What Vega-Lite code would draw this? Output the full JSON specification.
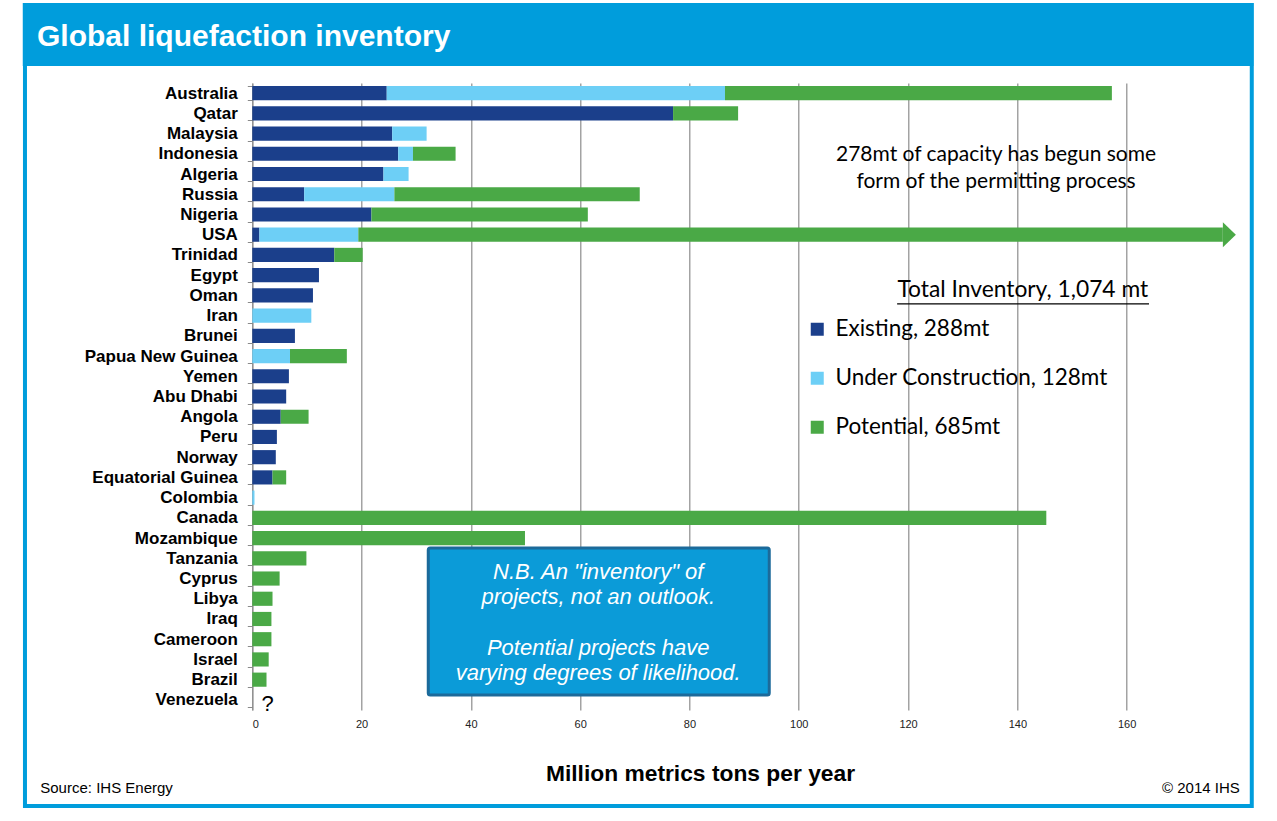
{
  "$schema": "https://vega.github.io/schema/vega-lite/v6.json",
  "width": 988,
  "height": 627,
  "autosize": "none",
  "padding": {"left": 252.3, "top": 83, "right": 36.7, "bottom": 111},
  "background": "white",
  "config": {"view": {"stroke": null}},
  "layer": [
    {
      "layer": [
        {
          "data": {
            "values": [
              {"country": "Australia", "status": "Existing", "value": 24.6},
              {"country": "Australia", "status": "Under Construction", "value": 61.9},
              {"country": "Australia", "status": "Potential", "value": 70.8},
              {"country": "Qatar", "status": "Existing", "value": 77.0},
              {"country": "Qatar", "status": "Potential", "value": 11.9},
              {"country": "Malaysia", "status": "Existing", "value": 25.6},
              {"country": "Malaysia", "status": "Under Construction", "value": 6.3},
              {"country": "Indonesia", "status": "Existing", "value": 26.7},
              {"country": "Indonesia", "status": "Under Construction", "value": 2.7},
              {"country": "Indonesia", "status": "Potential", "value": 7.8},
              {"country": "Algeria", "status": "Existing", "value": 24.0},
              {"country": "Algeria", "status": "Under Construction", "value": 4.6},
              {"country": "Russia", "status": "Existing", "value": 9.5},
              {"country": "Russia", "status": "Under Construction", "value": 16.5},
              {"country": "Russia", "status": "Potential", "value": 44.9},
              {"country": "Nigeria", "status": "Existing", "value": 21.8},
              {"country": "Nigeria", "status": "Potential", "value": 39.6},
              {"country": "USA", "status": "Existing", "value": 1.3},
              {"country": "USA", "status": "Under Construction", "value": 18.1},
              {"country": "USA", "status": "Potential", "value": 158.2},
              {"country": "Trinidad", "status": "Existing", "value": 15.0},
              {"country": "Trinidad", "status": "Potential", "value": 5.2},
              {"country": "Egypt", "status": "Existing", "value": 12.2},
              {"country": "Oman", "status": "Existing", "value": 11.1},
              {"country": "Iran", "status": "Under Construction", "value": 10.8},
              {"country": "Brunei", "status": "Existing", "value": 7.8},
              {"country": "Papua New Guinea", "status": "Under Construction", "value": 6.9},
              {"country": "Papua New Guinea", "status": "Potential", "value": 10.4},
              {"country": "Yemen", "status": "Existing", "value": 6.7},
              {"country": "Abu Dhabi", "status": "Existing", "value": 6.2},
              {"country": "Angola", "status": "Existing", "value": 5.2},
              {"country": "Angola", "status": "Potential", "value": 5.1},
              {"country": "Peru", "status": "Existing", "value": 4.5},
              {"country": "Norway", "status": "Existing", "value": 4.3},
              {"country": "Equatorial Guinea", "status": "Existing", "value": 3.7},
              {"country": "Equatorial Guinea", "status": "Potential", "value": 2.5},
              {"country": "Colombia", "status": "Under Construction", "value": 0.4},
              {"country": "Canada", "status": "Potential", "value": 145.3},
              {"country": "Mozambique", "status": "Potential", "value": 49.9},
              {"country": "Tanzania", "status": "Potential", "value": 9.9},
              {"country": "Cyprus", "status": "Potential", "value": 5.0},
              {"country": "Libya", "status": "Potential", "value": 3.7},
              {"country": "Iraq", "status": "Potential", "value": 3.5},
              {"country": "Cameroon", "status": "Potential", "value": 3.5},
              {"country": "Israel", "status": "Potential", "value": 3.0},
              {"country": "Brazil", "status": "Potential", "value": 2.6}
            ]
          },
          "transform": [
            {"calculate": "indexof(['Existing', 'Under Construction', 'Potential'], datum.status)", "as": "stack_order"}
          ],
          "mark": {"type": "bar"},
          "encoding": {
            "y": {
              "field": "country",
              "type": "nominal",
              "scale": {
                "domain": ["Australia", "Qatar", "Malaysia", "Indonesia", "Algeria", "Russia", "Nigeria", "USA", "Trinidad", "Egypt", "Oman", "Iran", "Brunei", "Papua New Guinea", "Yemen", "Abu Dhabi", "Angola", "Peru", "Norway", "Equatorial Guinea", "Colombia", "Canada", "Mozambique", "Tanzania", "Cyprus", "Libya", "Iraq", "Cameroon", "Israel", "Brazil", "Venezuela"],
                "paddingInner": 0.3,
                "paddingOuter": 0.15
              },
              "axis": {
                "title": null,
                "labelFont": "Liberation Sans",
                "labelFontSize": 17,
                "labelFontWeight": "bold",
                "labelColor": "#000000",
                "tickBand": "extent",
                "tickSize": 5,
                "tickColor": "#8a8a8a",
                "domainColor": "#8a8a8a",
                "labelPadding": 10,
                "grid": false
              }
            },
            "x": {
              "field": "value",
              "type": "quantitative",
              "stack": "zero",
              "scale": {"domain": [0, 180.8], "nice": false, "zero": true},
              "axis": {
                "title": "Million metrics tons per year",
                "values": [0, 20, 40, 60, 80, 100, 120, 140, 160],
                "grid": true,
                "gridColor": "#8c8c8c",
                "gridWidth": 1.2,
                "ticks": false,
                "domain": false,
                "labelFont": "Liberation Sans",
                "labelFontSize": 11,
                "labelColor": "#222222",
                "labelPadding": 8,
                "titleFont": "Liberation Sans",
                "titleFontSize": 22.8,
                "titleFontWeight": "bold",
                "titleColor": "#000000",
                "titleX": 447.7,
                "titleY": 70,
                "titleBaseline": "alphabetic",
                "titleAlign": "center"
              }
            },
            "order": {"field": "stack_order", "type": "quantitative", "sort": "ascending"},
            "color": {
              "field": "status",
              "type": "nominal",
              "scale": {
                "domain": ["Existing", "Under Construction", "Potential"],
                "range": ["#1b3f8b", "#6dcff6", "#4aa946"]
              },
              "legend": {
                "orient": "none",
                "legendX": 553.7,
                "legendY": 235,
                "title": null,
                "padding": 0,
                "symbolType": "square",
                "symbolSize": 169,
                "symbolStrokeWidth": 0,
                "labelFont": "Lato",
                "labelFontSize": 22.5,
                "labelColor": "#000000",
                "labelOffset": 7,
                "rowPadding": 26,
                "labelLimit": 400,
                "labelExpr": "datum.label == 'Existing' ? 'Existing, 288mt' : datum.label == 'Under Construction' ? 'Under Construction, 128mt' : 'Potential, 685mt'"
              }
            }
          }
        },
        {
          "data": {"values": [{}]},
          "mark": {"type": "point", "filled": true, "opacity": 1, "color": "#4aa946", "shape": "M-0.52,-1L0.52,0L-0.52,1Z", "size": 625},
          "encoding": {
            "x": {"datum": 178.8, "type": "quantitative"},
            "y": {"datum": "USA", "type": "nominal"}
          }
        },
        {
          "data": {"values": [{}]},
          "mark": {"type": "text", "text": "?", "font": "Liberation Sans", "fontSize": 22, "color": "#000000", "baseline": "middle", "align": "center", "dy": 4},
          "encoding": {
            "x": {"datum": 2.8, "type": "quantitative"},
            "y": {"datum": "Venezuela", "type": "nominal"}
          }
        }
      ]
    },
    {
      "data": {"values": [{}]},
      "layer": [
        {
          "mark": {"type": "rect", "color": "#009ddc"},
          "encoding": {
            "x": {"datum": -42.0, "type": "quantitative"},
            "x2": {"datum": 183.2},
            "y": {"datum": -3.83, "type": "quantitative", "scale": {"domain": [0, 30], "reverse": true, "nice": false, "zero": false}, "axis": null},
            "y2": {"datum": -0.81}
          }
        },
        {
          "mark": {"type": "rect", "fill": null, "filled": false, "stroke": "#009ddc", "strokeWidth": 4},
          "encoding": {
            "x": {"datum": -41.6, "type": "quantitative"},
            "x2": {"datum": 182.9},
            "y": {"datum": -3.73, "type": "quantitative", "scale": {"domain": [0, 30], "reverse": true, "nice": false, "zero": false}, "axis": null},
            "y2": {"datum": 34.59}
          }
        },
        {
          "mark": {"type": "text", "text": "Global liquefaction inventory", "font": "Liberation Sans", "fontSize": 30, "fontWeight": "bold", "color": "#ffffff", "align": "left", "baseline": "alphabetic"},
          "encoding": {
            "x": {"datum": -39.4, "type": "quantitative"},
            "y": {"datum": -1.77, "type": "quantitative", "scale": {"domain": [0, 30], "reverse": true, "nice": false, "zero": false}, "axis": null}
          }
        },
        {
          "mark": {"type": "text", "text": ["278mt of capacity has begun some", "form of the permitting process"], "font": "Lato", "fontSize": 21, "lineHeight": 27, "color": "#000000", "align": "center", "baseline": "middle"},
          "encoding": {
            "x": {"datum": 136.1, "type": "quantitative"},
            "y": {"datum": 3.44, "type": "quantitative", "scale": {"domain": [0, 30], "reverse": true, "nice": false, "zero": false}, "axis": null}
          }
        },
        {
          "mark": {"type": "text", "text": "Total Inventory, 1,074 mt", "font": "Lato", "fontSize": 22.8, "color": "#000000", "align": "center", "baseline": "middle"},
          "encoding": {
            "x": {"datum": 141.0, "type": "quantitative"},
            "y": {"datum": 9.9, "type": "quantitative", "scale": {"domain": [0, 30], "reverse": true, "nice": false, "zero": false}, "axis": null}
          }
        },
        {
          "mark": {"type": "rule", "color": "#000000", "strokeWidth": 1.3},
          "encoding": {
            "x": {"datum": 118.0, "type": "quantitative"},
            "x2": {"datum": 164.1},
            "y": {"datum": 10.57, "type": "quantitative", "scale": {"domain": [0, 30], "reverse": true, "nice": false, "zero": false}, "axis": null}
          }
        },
        {
          "mark": {"type": "rect", "color": "#0b9bd8", "stroke": "#1c6a9a", "strokeWidth": 3, "cornerRadius": 2},
          "encoding": {
            "x": {"datum": 32.2, "type": "quantitative"},
            "x2": {"datum": 94.6},
            "y": {"datum": 22.25, "type": "quantitative", "scale": {"domain": [0, 30], "reverse": true, "nice": false, "zero": false}, "axis": null},
            "y2": {"datum": 29.28}
          }
        },
        {
          "mark": {"type": "text", "text": ["N.B. An \"inventory\" of", "projects, not an outlook."], "font": "Liberation Sans", "fontSize": 22, "fontStyle": "italic", "lineHeight": 25.25, "color": "#ffffff", "align": "center", "baseline": "middle"},
          "encoding": {
            "x": {"datum": 63.3, "type": "quantitative"},
            "y": {"datum": 23.4, "type": "quantitative", "scale": {"domain": [0, 30], "reverse": true, "nice": false, "zero": false}, "axis": null}
          }
        },
        {
          "mark": {"type": "text", "text": ["Potential projects have", "varying degrees of likelihood."], "font": "Liberation Sans", "fontSize": 22, "fontStyle": "italic", "lineHeight": 25.25, "color": "#ffffff", "align": "center", "baseline": "middle"},
          "encoding": {
            "x": {"datum": 63.3, "type": "quantitative"},
            "y": {"datum": 27.03, "type": "quantitative", "scale": {"domain": [0, 30], "reverse": true, "nice": false, "zero": false}, "axis": null}
          }
        },
        {
          "mark": {"type": "text", "text": "Source: IHS Energy", "font": "Liberation Sans", "fontSize": 15, "color": "#000000", "align": "left", "baseline": "alphabetic"},
          "encoding": {
            "x": {"datum": -38.8, "type": "quantitative"},
            "y": {"datum": 33.97, "type": "quantitative", "scale": {"domain": [0, 30], "reverse": true, "nice": false, "zero": false}, "axis": null}
          }
        },
        {
          "mark": {"type": "text", "text": "© 2014 IHS", "font": "Liberation Sans", "fontSize": 15, "color": "#000000", "align": "right", "baseline": "alphabetic"},
          "encoding": {
            "x": {"datum": 180.7, "type": "quantitative"},
            "y": {"datum": 33.97, "type": "quantitative", "scale": {"domain": [0, 30], "reverse": true, "nice": false, "zero": false}, "axis": null}
          }
        }
      ]
    }
  ],
  "resolve": {"scale": {"y": "independent"}, "axis": {"y": "independent"}}
}
